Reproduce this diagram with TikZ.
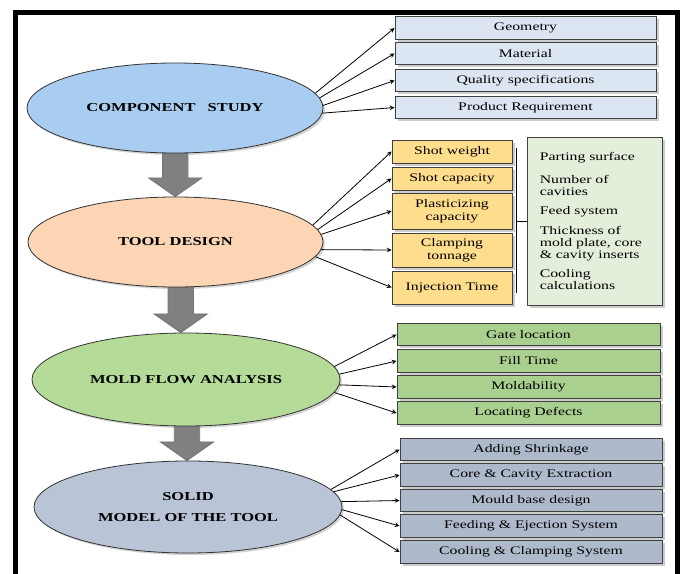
\documentclass[tikz,border=0pt]{standalone}
\usepackage{fontspec}
\setmainfont{Liberation Serif}[FakeStretch=1.36]
\usetikzlibrary{shapes.geometric,shadows,calc,backgrounds}

\definecolor{csblue}{HTML}{A9CDF0}
\definecolor{csbluebox}{HTML}{DCE6F2}
\definecolor{tdpeach}{HTML}{FCD5B5}
\definecolor{tdyellow}{HTML}{FEDD8C}
\definecolor{tdnotegreen}{HTML}{E3EEDB}
\definecolor{mfgreen}{HTML}{B5DB98}
\definecolor{mfgreenbox}{HTML}{A9D08E}
\definecolor{smgrey}{HTML}{B9C4D7}
\definecolor{smgreybox}{HTML}{AEBACB}
\definecolor{arrgrey}{HTML}{808080}

\newcommand\grayarrow[2]{%
\begin{pgfonlayer}{background}
\coordinate (m) at ($(#1.south)!.5!(#2.north)$);
\coordinate (s) at (m |- #1.south);
\coordinate (t) at (m |- #2.north);
\draw[blockarr] ([xshift=-9.5pt,yshift=3pt]s) -- ([xshift=-9.5pt,yshift=14pt]t) -- ([xshift=-20pt,yshift=14pt]t) -- (t)
  -- ([xshift=20pt,yshift=14pt]t) -- ([xshift=9.5pt,yshift=14pt]t) -- ([xshift=9.5pt,yshift=3pt]s) -- cycle;
\end{pgfonlayer}}

\begin{document}
\begin{tikzpicture}[x=0.75pt,y=-0.75pt,>=stealth,
  ell/.style={ellipse,draw=black!80,line width=0.6pt,inner sep=0pt,align=center,
    font=\fontsize{9.1}{11}\selectfont\bfseries,
    drop shadow={shadow xshift=1.5pt,shadow yshift=-1.5pt,opacity=.35}},
  box/.style={rectangle,draw=black!75,line width=0.7pt,inner sep=1pt,align=center,
    font=\fontsize{8.7}{9.75}\selectfont,
    drop shadow={shadow xshift=2pt,shadow yshift=-2pt,opacity=.4}},
  csbox/.style={box,fill=csbluebox,minimum width=195.75pt,minimum height=16.9pt},
  tdbox/.style={box,fill=tdyellow,minimum width=90pt},
  mfbox/.style={box,fill=mfgreenbox,minimum width=197.25pt,minimum height=16.9pt},
  smbox/.style={box,fill=smgreybox,minimum width=196.5pt,minimum height=16.9pt},
  lnk/.style={->,line width=0.6pt},
  blockarr/.style={fill=arrgrey,draw=black!55,line width=0.6pt}]
\useasboundingbox (0,0) rectangle (683,574);
\draw[line width=3.75pt] (15.5,590) -- (15.5,12.5) -- (677,12.5) -- (677,590);

% component study
\node[ell,fill=csblue,minimum width=222pt,minimum height=67.5pt] (cs) at (175,108) {COMPONENT\hspace{1em}STUDY};
\node[csbox] (g1) at (525.5,28) {Geometry};
\node[csbox] (g2) at (525.5,53.5) {Material};
\node[csbox] (g3) at (525.5,80.5) {Quality specifications};
\node[csbox] (g4) at (525.5,107.5) {Product Requirement};
\draw[lnk] (cs.6) -- (g1.west);
\draw[lnk] (cs.4) -- (g2.west);
\draw[lnk] (cs.1) -- (g3.west);
\draw[lnk] (cs.-2) -- (g4.west);

% tool design
\node[ell,fill=tdpeach,minimum width=221.25pt,minimum height=67.5pt] (td) at (175.5,242) {TOOL DESIGN};
\node[tdbox,minimum height=17.25pt] (y1) at (452,151.5) {Shot weight};
\node[tdbox,minimum height=17.25pt] (y2) at (452,178.5) {Shot capacity};
\node[tdbox,minimum height=27pt] (y3) at (452,211) {Plasticizing\\capacity};
\node[tdbox,minimum height=25.5pt] (y4) at (452,250) {Clamping\\tonnage};
\node[tdbox,minimum height=24.75pt] (y5) at (452,287.5) {Injection Time};
\draw[lnk] (td.7.5) -- (y1.west);
\draw[lnk] (td.5.7) -- (y2.west);
\draw[lnk] (td.3.6) -- (y3.west);
\draw[lnk] (td.-3) -- (y4.west);
\draw[lnk] (td.-6.4) -- (y5.west);
\node[box,fill=tdnotegreen,minimum width=101.25pt,minimum height=126pt,text width=82pt,
  inner xsep=9pt,align=left,font=\fontsize{8.7}{9}\selectfont] (nt) at (594.5,221)
  {Parting surface\\[8pt] Number of\\ cavities\\[5.5pt] Feed system\\[5.5pt]
   Thickness of\\ mold plate, core\\ \& cavity inserts\\[5.5pt] Cooling\\ calculations};
\coordinate (bt) at (516,148);
\coordinate (bb) at (516,293);
\draw[line width=0.6pt] (bt) -- (bb);
\draw[line width=0.6pt] (bt |- nt.west) -- (nt.west);

% mold flow analysis
\node[ell,fill=mfgreen,minimum width=231pt,minimum height=69.75pt] (mf) at (186,379.5) {MOLD FLOW ANALYSIS};
\node[mfbox] (f1) at (528.5,334.5) {Gate location};
\node[mfbox] (f2) at (528.5,361) {Fill Time};
\node[mfbox] (f3) at (528.5,387) {Moldability};
\node[mfbox] (f4) at (528.5,413) {Locating Defects};
\draw[lnk] (mf.5.5) -- (f1.west);
\draw[lnk] (mf.2.8) -- (f2.west);
\draw[lnk] (mf.-2.4) -- (f3.west);
\draw[lnk] (mf.-5.2) -- (f4.west);

% solid model
\node[ell,fill=smgrey,minimum width=231pt,minimum height=69pt] (sm) at (188,507) {SOLID\\[4.75pt] MODEL OF THE TOOL};
\node[smbox] (s1) at (531,449.5) {Adding Shrinkage};
\node[smbox] (s2) at (531,475) {Core \& Cavity Extraction};
\node[smbox] (s3) at (531,500.5) {Mould base design};
\node[smbox] (s4) at (531,526) {Feeding \& Ejection System};
\node[smbox] (s5) at (531,552) {Cooling \& Clamping System};
\draw[lnk] (sm.7.5) -- (s1.west);
\draw[lnk] (sm.6.6) -- (s2.west);
\draw[lnk] (sm.2.6) -- (s3.west);
\draw[lnk] (sm.-1.1) -- (s4.west);
\draw[lnk] (sm.-3.9) -- (s5.west);

\grayarrow{cs}{td}
\grayarrow{td}{mf}
\grayarrow{mf}{sm}
\end{tikzpicture}
\end{document}
